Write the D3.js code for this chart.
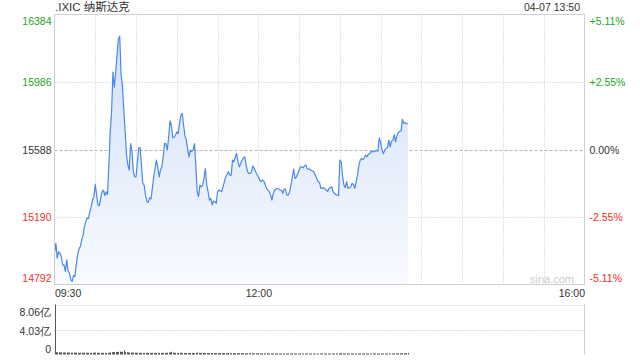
<!DOCTYPE html>
<html><head><meta charset="utf-8">
<script src="https://cdn.jsdelivr.net/npm/d3@7"></script>
<style>
html,body{margin:0;padding:0;background:#fff;}
svg{display:block;font-family:"Liberation Sans",Arial,"Noto Sans CJK SC",sans-serif;}
</style></head><body>
<svg id="c" width="640" height="360"></svg>
<script>
// ---- data ----
const title = ".IXIC 纳斯达克";
const stamp = "04-07 13:50";
const prevClose = 15588;
const priceTicks = [14792, 15190, 15588, 15986, 16384];
const pctLabels = ["-5.11%", "-2.55%", "0.00%", "+2.55%", "+5.11%"];
const timeLabels = ["09:30", "12:00", "16:00"];
const timeLabelMinutes = [0, 150, 390];
const sessionMinutes = 390;
const volTicks = [0, 4.03, 8.06];
const volTickLabels = ["0", "4.03亿", "8.06亿"];
// one value per minute from 09:30 to 13:50
const prices = [
14976,15035,14947,14986,14976,14957,14908,14908,14869,14937,
14869,14859,14820,14810,14845,14839,14908,14967,15002,15016,
15055,15080,15133,15163,15186,15182,15221,15251,15290,15310,
15382,15319,15261,15257,15300,15339,15349,15316,15339,15323,
15496,15692,15809,16045,15956,16045,16143,16241,16256,16029,
15966,15819,15692,15555,15496,15466,15623,15574,15457,15427,
15427,15515,15598,15598,15496,15388,15378,15319,15280,15276,
15304,15296,15359,15427,15476,15525,15486,15427,15466,15486,
15545,15623,15623,15584,15662,15757,15731,15657,15660,15672,
15692,15682,15741,15790,15800,15731,15668,15643,15590,15545,
15584,15578,15584,15623,15496,15339,15310,15378,15368,15378,
15417,15476,15378,15339,15290,15300,15261,15284,15280,15270,
15339,15349,15343,15339,15368,15398,15427,15441,15457,15437,
15437,15525,15515,15545,15564,15515,15486,15506,15525,15539,
15545,15496,15457,15447,15447,15457,15492,15476,15457,15441,
15427,15408,15398,15408,15402,15382,15359,15349,15339,15319,
15290,15329,15349,15355,15359,15355,15349,15347,15329,15355,
15355,15319,15319,15339,15378,15427,15472,15417,15427,15447,
15466,15486,15486,15480,15492,15496,15472,15472,15472,15463,
15461,15453,15437,15417,15398,15394,15359,15359,15363,15355,
15349,15339,15359,15363,15368,15339,15329,15323,15319,15316,
15525,15515,15427,15378,15363,15398,15359,15363,15368,15388,
15382,15359,15398,15437,15496,15525,15535,15529,15539,15555,
15545,15561,15564,15578,15574,15578,15578,15584,15578,15657,
15629,15584,15564,15584,15594,15598,15643,15604,15637,15643,
15676,15633,15672,15688,15696,15698,15766,15741,15747,15741,
15739
];
// volume per minute, in 亿
const volumes = [
8.06,0.38,0.35,0.36,0.33,0.34,0.31,0.32,0.30,0.33,
0.29,0.31,0.30,0.28,0.30,0.29,0.31,0.28,0.27,0.30,
0.29,0.28,0.30,0.27,0.29,0.28,0.26,0.29,0.27,0.30,
0.31,0.28,0.27,0.26,0.28,0.27,0.26,0.27,0.25,0.26,
0.29,0.34,0.36,0.40,0.38,0.42,0.40,0.44,0.46,0.42,
0.45,0.66,0.40,0.36,0.33,0.32,0.30,0.31,0.29,0.30,
0.28,0.27,0.29,0.27,0.28,0.26,0.27,0.28,0.26,0.25,
0.27,0.26,0.28,0.27,0.26,0.25,0.27,0.26,0.25,0.26,
0.27,0.28,0.26,0.27,0.30,0.36,0.44,0.32,0.28,0.27,
0.26,0.25,0.27,0.28,0.26,0.25,0.24,0.26,0.25,0.24,
0.25,0.26,0.24,0.25,0.27,0.30,0.28,0.26,0.25,0.24,
0.23,0.25,0.24,0.23,0.25,0.24,0.23,0.22,0.24,0.23,
0.22,0.24,0.23,0.22,0.23,0.24,0.22,0.21,0.23,0.22,
0.21,0.22,0.23,0.21,0.22,0.20,0.21,0.22,0.20,0.21,
0.20,0.19,0.21,0.20,0.19,0.20,0.18,0.19,0.20,0.18,
0.19,0.18,0.17,0.19,0.18,0.17,0.18,0.19,0.17,0.18,
0.17,0.18,0.16,0.17,0.18,0.16,0.17,0.16,0.18,0.17,
0.16,0.17,0.16,0.15,0.17,0.18,0.16,0.17,0.16,0.15,
0.16,0.17,0.15,0.16,0.15,0.16,0.17,0.15,0.16,0.15,
0.16,0.15,0.14,0.16,0.15,0.16,0.17,0.16,0.15,0.16,
0.15,0.16,0.15,0.14,0.15,0.16,0.15,0.16,0.15,0.17,
0.24,0.20,0.18,0.17,0.16,0.17,0.16,0.15,0.16,0.17,
0.16,0.15,0.16,0.17,0.18,0.17,0.16,0.17,0.16,0.17,
0.16,0.17,0.16,0.15,0.16,0.17,0.16,0.15,0.16,0.19,
0.17,0.16,0.17,0.16,0.17,0.18,0.17,0.16,0.18,0.17,
0.18,0.17,0.18,0.19,0.18,0.19,0.21,0.19,0.20,0.22,
0.26
];

// ---- drawing ----
const svg = d3.select("#c");
const L = 54.5, R = 584.5, T = 14.5, B = 284.5;
const VT = 304.5, VB = 354.5;
const green = "#1ea51e", red = "#f2302a", dark = "#333";
const font = 10.5;

const x = d3.scaleLinear().domain([0, sessionMinutes]).range([L, R]);
const y = d3.scaleLinear().domain([priceTicks[0], priceTicks[priceTicks.length-1]]).range([B, T]);
const yv = d3.scaleLinear().domain([0, volTicks[volTicks.length-1]]).range([VB, VT]);

const defs = svg.append("defs");
const grad = defs.append("linearGradient").attr("id","fillg")
  .attr("gradientUnits","userSpaceOnUse").attr("x1",0).attr("x2",0).attr("y1",T).attr("y2",B);
grad.append("stop").attr("offset","0%").attr("stop-color","#cfdff8");
grad.append("stop").attr("offset","100%").attr("stop-color","#f8fafe");

// vertical grid lines
const vgrid = d3.range(30, sessionMinutes, 30);
svg.append("g").selectAll("line").data(vgrid).join("line")
  .attr("x1", d => Math.round(x(d)) + 0.5).attr("x2", d => Math.round(x(d)) + 0.5)
  .attr("y1", T).attr("y2", B)
  .attr("stroke", "#c8c8c8").attr("stroke-dasharray", "1,2");
// horizontal grid lines
svg.append("g").selectAll("line").data(priceTicks.slice(1, -1)).join("line")
  .attr("x1", L).attr("x2", R)
  .attr("y1", d => Math.round(y(d)) + 0.5).attr("y2", d => Math.round(y(d)) + 0.5)
  .attr("stroke", d => d === prevClose ? "#b4b4b4" : "#c8c8c8")
  .attr("stroke-dasharray", d => d === prevClose ? "3,2" : "1,2");

// area + line
const pts = prices.map((v, i) => [i, v]);
svg.append("path").datum(pts)
  .attr("fill", "url(#fillg)")
  .attr("d", d3.area().x(d => x(d[0])).y0(B).y1(d => y(d[1])));
svg.append("path").datum(pts)
  .attr("fill", "none").attr("stroke", "#4a88ee").attr("stroke-width", 1.2)
  .attr("stroke-linejoin", "round")
  .attr("d", d3.line().x(d => x(d[0])).y(d => y(d[1])));

// frame
svg.append("rect").attr("x", L).attr("y", T).attr("width", R - L).attr("height", B - T)
  .attr("fill", "none").attr("stroke", "#cfcfcf");

// watermark
svg.append("text").attr("x", 552).attr("y", 283).attr("text-anchor", "middle")
  .attr("font-size", 11).attr("fill", "#cdcdcd").text("sina.com");

// left price axis
const n = priceTicks.length;
const nudge = (i) => i === 0 ? -6.5 : (i === n - 1 ? 6 : 0);
const colorFor = (v) => v > prevClose ? green : (v < prevClose ? red : dark);
const leftAxis = d3.axisLeft(y).tickValues(priceTicks).tickSize(0).tickPadding(0).tickFormat(d3.format("d"));
const ga = svg.append("g").attr("transform", `translate(${L - 3},0)`).call(leftAxis);
ga.select(".domain").remove();
ga.selectAll("text").attr("font-size", font).attr("font-family", null)
  .attr("fill", d => colorFor(d))
  .attr("dy", (d, i) => (0.34 * font + nudge(i)) + "px");

// right percent axis
const rightAxis = d3.axisRight(y).tickValues(priceTicks).tickSize(0).tickPadding(0)
  .tickFormat((d, i) => pctLabels[i]);
const gr = svg.append("g").attr("transform", `translate(${R + 5},0)`).call(rightAxis);
gr.select(".domain").remove();
gr.selectAll("text").attr("font-size", font).attr("font-family", null)
  .attr("fill", d => colorFor(d))
  .attr("dy", (d, i) => (0.34 * font + nudge(i)) + "px");

// time labels
svg.append("g").selectAll("text").data(timeLabels).join("text")
  .attr("x", (d, i) => x(timeLabelMinutes[i]) + (i === 0 ? 0.5 : (i === timeLabels.length - 1 ? 0.5 : 0.5)))
  .attr("y", 297)
  .attr("text-anchor", (d, i) => i === 0 ? "start" : (i === timeLabels.length - 1 ? "end" : "middle"))
  .attr("font-size", font).attr("fill", dark).text(d => d);

// title and timestamp
svg.append("text").attr("x", 55).attr("y", 11).attr("font-size", 11.5).attr("fill", dark).text(title);
svg.append("text").attr("x", 580).attr("y", 11).attr("text-anchor", "end")
  .attr("font-size", font).attr("fill", dark).text(stamp);

// volume panel
svg.append("g").selectAll("line").data(volTicks.slice(1)).join("line")
  .attr("x1", L).attr("x2", R)
  .attr("y1", d => Math.round(yv(d)) + 0.5).attr("y2", d => Math.round(yv(d)) + 0.5)
  .attr("stroke", "#c0c0c0").attr("stroke-dasharray", "1,2");
svg.append("line").attr("x1", R).attr("x2", R).attr("y1", VT).attr("y2", VB)
  .attr("stroke", "#cfcfcf");
svg.append("g").selectAll("rect").data(volumes).join("rect")
  .attr("x", (d, i) => Math.round(x(i))).attr("width", 1)
  .attr("y", d => yv(d)).attr("height", d => VB - yv(d))
  .attr("fill", "#555");
const volAxis = d3.axisLeft(yv).tickValues(volTicks).tickSize(0).tickPadding(0)
  .tickFormat((d, i) => volTickLabels[i]);
const gv = svg.append("g").attr("transform", `translate(51,0)`).call(volAxis);
gv.select(".domain").remove();
gv.selectAll("text").attr("font-size", font).attr("font-family", null).attr("fill", dark)
  .attr("dy", (d, i) => (0.34 * font + (i === 0 ? -6 : (i === volTicks.length - 1 ? 7 : 1))) + "px");
</script>
</body></html>
